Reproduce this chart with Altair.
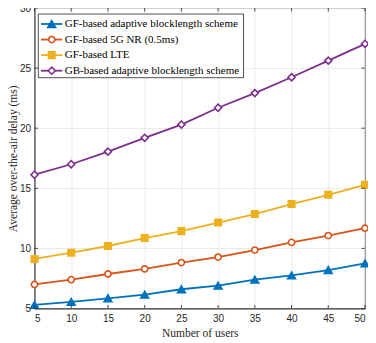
import altair as alt
import pandas as pd

users = [5, 10, 15, 20, 25, 30, 35, 40, 45, 50]
series_names = [
    "GF-based adaptive blocklength scheme",
    "GF-based 5G NR (0.5ms)",
    "GF-based LTE",
    "GB-based adaptive blocklength scheme",
]
gf_adaptive = [5.3, 5.55, 5.85, 6.15, 6.6, 6.9, 7.4, 7.75, 8.2, 8.75]
gf_5g = [7.0, 7.4, 7.87, 8.29, 8.82, 9.28, 9.86, 10.5, 11.07, 11.68]
gf_lte = [9.12, 9.64, 10.2, 10.86, 11.44, 12.15, 12.86, 13.69, 14.46, 15.29]
gb_adaptive = [16.13, 17.0, 18.05, 19.2, 20.3, 21.7, 22.92, 24.24, 25.62, 27.02]
colors = ["#0072BD", "#D95319", "#EDB120", "#7E2F8E"]
fills = ["#0072BD", "white", "#EDB120", "white"]
shapes = ["triangle-up", "circle", "square", "diamond"]
sizes = [60, 38, 42, 50]
x_ticks = [5, 10, 15, 20, 25, 30, 35, 40, 45, 50]
y_ticks = [5, 10, 15, 20, 25, 30]

rows = []
for name, vals in zip(series_names, [gf_adaptive, gf_5g, gf_lte, gb_adaptive]):
    for u, v in zip(users, vals):
        rows.append({"users": u, "delay": v, "series": name})
df = pd.DataFrame(rows)
legend_df = pd.DataFrame({"series": series_names})

W, H = 330.5, 300.5
xscale = alt.Scale(domain=[5, 50], nice=False, zero=False)
yscale = alt.Scale(domain=[5, 30], nice=False, zero=False)
sscale = alt.Scale(domain=series_names, range=colors)

base = alt.Chart(df)
xaxis = alt.Axis(values=x_ticks, grid=True, labelOverlap=False)
yaxis = alt.Axis(values=y_ticks, grid=True, labelOverlap=False)
XT = "Number of users"
YT = "Average over-the-air delay (ms)"

lines = base.mark_line(strokeWidth=1.8).encode(
    x=alt.X("users:Q", scale=xscale, title=XT, axis=xaxis),
    y=alt.Y("delay:Q", scale=yscale, title=YT, axis=yaxis),
    stroke=alt.Stroke("series:N", scale=sscale, legend=None),
    detail="series:N",
)

point_layers = []
for name, shp, fl, sz in zip(series_names, shapes, fills, sizes):
    point_layers.append(
        base.transform_filter(alt.datum.series == name)
        .mark_point(shape=shp, filled=False, fill=fl, fillOpacity=1, opacity=1,
                    strokeWidth=1.6, size=sz)
        .encode(
            x=alt.X("users:Q", scale=xscale, title=XT, axis=xaxis),
            y=alt.Y("delay:Q", scale=yscale, title=YT, axis=yaxis),
            stroke=alt.Stroke("series:N", scale=sscale, legend=None),
        )
    )

tx = pd.DataFrame({"t": x_ticks})
ty = pd.DataFrame({"t": y_ticks})
tick_len = 3.5
tick_style = dict(color="#262626", strokeWidth=0.8)
ticks = [
    alt.Chart(tx).mark_rule(**tick_style).encode(
        x=alt.X("t:Q", scale=xscale, title=XT, axis=xaxis),
        y=alt.value(H), y2=alt.value(H - tick_len)),
    alt.Chart(tx).mark_rule(**tick_style).encode(
        x=alt.X("t:Q", scale=xscale, title=XT, axis=xaxis),
        y=alt.value(0), y2=alt.value(tick_len)),
    alt.Chart(ty).mark_rule(**tick_style).encode(
        y=alt.Y("t:Q", scale=yscale, title=YT, axis=yaxis),
        x=alt.value(0), x2=alt.value(tick_len)),
    alt.Chart(ty).mark_rule(**tick_style).encode(
        y=alt.Y("t:Q", scale=yscale, title=YT, axis=yaxis),
        x=alt.value(W), x2=alt.value(W - tick_len)),
]

main = alt.layer(lines, *point_layers, *ticks)

# ---- legend (drawn with marks, rows on their own point scale) ----
ly = alt.Y("series:N", axis=None,
           scale=alt.Scale(type="point", domain=series_names, range=[16, 62.7], padding=0))
leg_box = alt.Chart(pd.DataFrame({"k": [0]})).mark_rect(
    fill="white", stroke="#262626", strokeWidth=0.8
).encode(x=alt.value(3.8), x2=alt.value(209), y=alt.value(6), y2=alt.value(69.7))
leg_lines = alt.Chart(legend_df).mark_rule(strokeWidth=1.8).encode(
    x=alt.value(6.5), x2=alt.value(27.8), y=ly,
    stroke=alt.Stroke("series:N", scale=sscale, legend=None),
)
leg_points = []
for name, shp, fl, sz in zip(series_names, shapes, fills, sizes):
    leg_points.append(
        alt.Chart(legend_df).transform_filter(alt.datum.series == name)
        .mark_point(shape=shp, filled=False, fill=fl, fillOpacity=1, opacity=1,
                    strokeWidth=1.6, size=sz)
        .encode(x=alt.value(17.2), y=ly,
                stroke=alt.Stroke("series:N", scale=sscale, legend=None))
    )
leg_text = alt.Chart(legend_df).mark_text(
    align="left", baseline="middle", font="Liberation Serif", fontSize=11, color="black"
).encode(x=alt.value(30.2), y=ly, text="series:N")

legend = alt.layer(leg_box, leg_lines, *leg_points, leg_text)

chart = (
    alt.layer(main, legend)
    .resolve_scale(y="independent")
    .properties(
        width=W, height=H,
        autosize=alt.AutoSizeParams(type="none"),
        padding={"left": 26.5, "top": 0, "right": 3, "bottom": 34.5},
        background="white",
    )
    .configure_view(stroke="#262626", strokeWidth=0.8)
    .configure_axis(
        domainColor="#262626", domainWidth=0.8, ticks=False, labelOverlap=False,
        gridColor="#e6e6e6", gridWidth=0.8,
        labelFont="Liberation Sans", labelFontSize=10, labelColor="#262626",
        titleFont="Liberation Serif", titleFontSize=11.5, titleFontWeight="normal",
        titleColor="#262626",
    )
    .configure_axisX(labelPadding=5, titlePadding=4)
    .configure_axisY(labelPadding=4, titlePadding=1)
)

chart.save("out.html", embed_options={"renderer": "svg", "actions": False})
